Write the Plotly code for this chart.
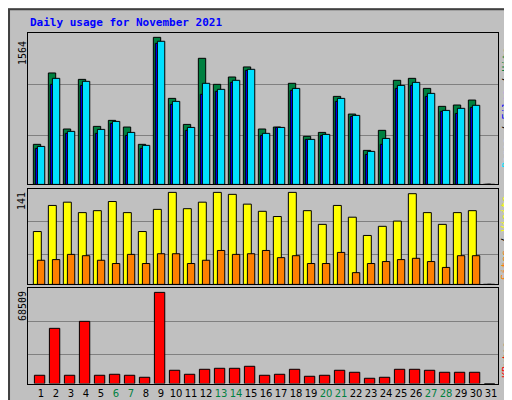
import plotly.graph_objects as go

days = list(range(1, 32))
hits = [426,1185,589,1117,617,681,610,426,1564,915,638,1341,1064,1142,1249,589,610,1075,511,553,936,748,362,575,1107,1128,1021,830,844,897,0]
files = [404,1128,564,1096,585,670,553,415,1522,883,606,1075,1011,1107,1224,543,606,1021,479,532,915,734,351,489,1053,1085,968,787,809,841,0]
pages = [383,1064,543,1053,543,649,521,383,1500,851,575,958,990,1085,1213,521,606,1000,479,521,883,723,319,426,1021,1053,936,777,755,819,0]
visits = [81,121,126,110,113,127,110,81,115,141,116,126,141,138,123,112,104,141,113,92,121,103,75,89,97,139,110,92,110,113,0]
sites = [37,38,46,44,37,32,46,32,47,47,32,37,52,46,47,52,41,44,32,32,49,18,32,35,38,40,35,26,44,44,0]
kbytes = [6251,41505,6251,46755,6251,7000,6251,4750,68509,10001,7000,10751,11501,11501,13001,6251,7000,10751,5500,6251,10001,8501,4000,4750,10751,10751,10001,8501,8501,8501,0]
weekend = {6,7,13,14,20,21,27,28}

fig = go.Figure()
def bar(y, color, off, w, xa, ya):
    fig.add_trace(go.Bar(x=days, y=y, offset=off, width=w, marker=dict(color=color, line=dict(color="black", width=1)),
                         xaxis=xa, yaxis=ya, showlegend=False, hoverinfo="skip"))
bar(hits, "#008040", -0.51, 0.49, "x", "y")
bar(pages, "#0000ff", -0.38, 0.35, "x", "y")
bar(files, "#00e0ff", -0.24, 0.49, "x", "y")
bar(visits, "#ffff00", -0.51, 0.53, "x2", "y2")
bar(sites, "#ff8000", -0.24, 0.49, "x2", "y2")
bar(kbytes, "#ff0000", -0.44, 0.69, "x3", "y3")

xr = [0.133, 31.467]
xd = [20/512, 490/512]
common = dict(range=xr, domain=xd, showgrid=False, zeroline=False, showline=True, linecolor="black", mirror=True,
              fixedrange=True, automargin=False)
ticktext = [f'<span style="color:#008040">{d}</span>' if d in weekend else str(d) for d in days]
fig.update_layout(
    xaxis=dict(**common, showticklabels=False, anchor="y"),
    xaxis2=dict(**common, showticklabels=False, anchor="y2"),
    xaxis3=dict(**common, anchor="y3", tickvals=days, ticktext=ticktext, ticks="", tickangle=0,
                tickfont=dict(family="DejaVu Sans", size=10, color="black")),
)
ycommon = dict(showticklabels=False, gridcolor="#808080", gridwidth=1, zeroline=False, showline=True, linecolor="black",
               mirror=True, ticks="", fixedrange=True, automargin=False)
fig.update_layout(
    yaxis=dict(**ycommon, range=[0, 1610], domain=[0.559, 0.9375], tickvals=[525, 1064], anchor="x"),
    yaxis2=dict(**ycommon, range=[0, 146.5], domain=[0.309, 0.548], tickvals=[46.5, 96.6], anchor="x2"),
    yaxis3=dict(**ycommon, range=[0, 71500], domain=[0.061, 0.299], tickvals=[22000, 46755], anchor="x3"),
)
mono = "DejaVu Sans Mono"
ann = [
    dict(text="<b>Daily usage for November 2021</b>", x=20/512, y=1-15/400, xanchor="left", yanchor="middle",
         font=dict(family=mono, size=11, color="#0000ff")),
    dict(text="1564", x=14/512, y=1-45/400, textangle=-90, font=dict(family=mono, size=10, color="black")),
    dict(text="141", x=14/512, y=1-193/400, textangle=-90, font=dict(family=mono, size=10, color="black")),
    dict(text="68509", x=14/512, y=1-298/400, textangle=-90, font=dict(family=mono, size=10, color="black")),
    dict(text='<span style="color:#00e0ff">Pages</span> / <span style="color:#0000ff">Files</span> / <span style="color:#008040">Hits</span>',
         x=498/512, y=1-100/400, textangle=-90, font=dict(family=mono, size=10, color="black")),
    dict(text='<span style="color:#ff8000">Sites</span> / <span style="color:#ffff00">Visits</span>',
         x=498/512, y=1-230/400, textangle=-90, font=dict(family=mono, size=10, color="black")),
    dict(text='<span style="color:#ff0000">KBytes</span>',
         x=498/512, y=1-352/400, textangle=-90, font=dict(family=mono, size=10, color="black")),
]
for a in ann:
    a.update(xref="paper", yref="paper", showarrow=False, xanchor=a.get("xanchor", "center"), yanchor=a.get("yanchor", "middle"))
fig.update_layout(
    annotations=ann, width=512, height=400, margin=dict(l=0, r=0, t=0, b=0, autoexpand=False),
    paper_bgcolor="#c0c0c0", plot_bgcolor="#c0c0c0", barmode="overlay",
    shapes=[dict(type="rect", xref="paper", yref="paper", x0=0.002, y0=0.003, x1=0.998, y1=0.997,
                 line=dict(color="#404040", width=2))],
)
fig.write_html("out.html", config={"displayModeBar": False})
